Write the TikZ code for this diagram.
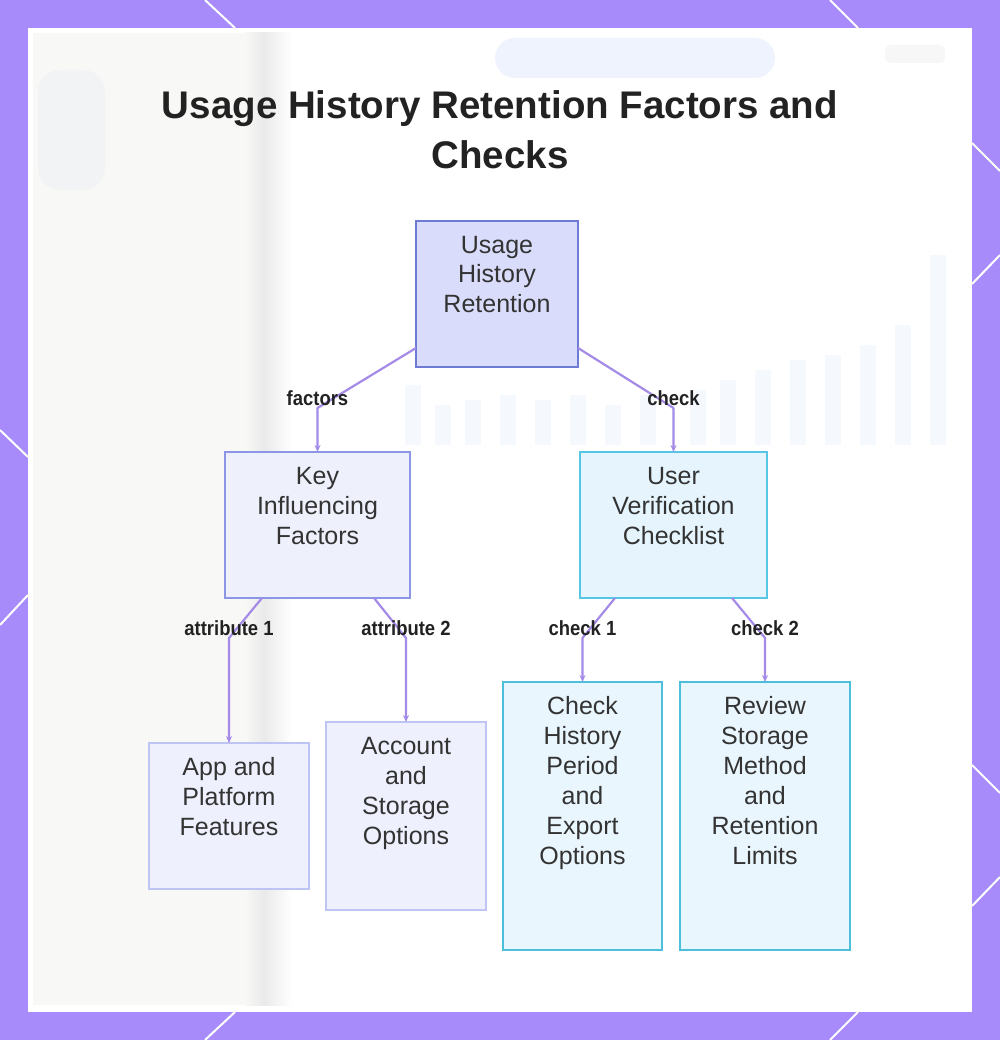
\documentclass[tikz,border=0pt]{standalone}
\usepackage{fontspec}
\setmainfont{Liberation Sans}
\newfontfamily\lblfont[FakeStretch=0.9]{Liberation Sans}
\usetikzlibrary{arrows.meta}
\definecolor{framec}{HTML}{A78BFA}
\definecolor{edgec}{HTML}{A48BE8}
\definecolor{ttl}{HTML}{222222}
\definecolor{txt}{HTML}{333333}
\definecolor{rootfill}{HTML}{D9DCFA}
\definecolor{rootdraw}{HTML}{6E7BD4}
\definecolor{kiffill}{HTML}{EEF0FC}
\definecolor{kifdraw}{HTML}{8D96E6}
\definecolor{leaffill}{HTML}{EEF0FD}
\definecolor{leafdraw}{HTML}{BFC5F3}
\definecolor{uvcfill}{HTML}{E6F5FD}
\definecolor{uvcdraw}{HTML}{56C6E4}
\definecolor{chkfill}{HTML}{EAF6FE}
\definecolor{chkdraw}{HTML}{4BBFDB}
\definecolor{offwhite}{HTML}{F8F8F6}
\definecolor{bandgray}{HTML}{EAEAEA}
\definecolor{blurgray}{HTML}{F2F3F4}
\definecolor{blurblue}{HTML}{F5F8FD}
\definecolor{pillblue}{HTML}{EEF3FE}
\newcommand\boxtext[3]{\parbox[c][#1][t]{#2}{\centering\fontsize{25}{30}\selectfont\rule{0pt}{32pt}#3\par}}
\begin{document}
\begin{tikzpicture}[x=1pt,y=-1pt,
  box/.style={draw, line width=2pt, inner sep=0pt, outer sep=0pt, text=txt},
  rootbox/.style={box, fill=rootfill, draw=rootdraw},
  kifbox/.style={box, fill=kiffill, draw=kifdraw},
  leafbox/.style={box, fill=leaffill, draw=leafdraw},
  uvcbox/.style={box, fill=uvcfill, draw=uvcdraw},
  chkbox/.style={box, fill=chkfill, draw=chkdraw},
  edge/.style={draw=edgec, line width=2.2pt, line join=round, -{Stealth[length=7pt,width=6pt]}},
  lbl/.style={font=\lblfont\bfseries\fontsize{20.5}{22}\selectfont, text=ttl, yshift=10pt},
  ttlnode/.style={font=\bfseries\fontsize{38.5}{46}\selectfont, text=ttl, anchor=base},
  wline/.style={draw=white, line width=2pt}]
\useasboundingbox (0,0) rectangle (1000,1040);
% frame
\fill[framec] (0,0) rectangle (1000,1040);
\draw[wline] (205,0) -- (235,28);
\draw[wline] (830,0) -- (858,28);
\draw[wline] (235,1012) -- (205,1040);
\draw[wline] (858,1012) -- (830,1040);
\draw[wline] (972,143) -- (1000,171);
\draw[wline] (1000,255) -- (972,284);
\draw[wline] (972,765) -- (1000,793);
\draw[wline] (1000,877) -- (972,906);
\draw[wline] (0,430) -- (28,457);
\draw[wline] (28,595) -- (0,625);
% panel with faint blurred background
\fill[white] (28,28) rectangle (972,1012);
\fill[offwhite] (33,33) rectangle (245,1005);
\shade[left color=offwhite, right color=bandgray] (245,33) rectangle (264,1005);
\shade[left color=bandgray, right color=white] (264,33) rectangle (292,1005);
\fill[blurgray, rounded corners=22pt] (38,70) rectangle (105,190);
\fill[pillblue, rounded corners=20pt] (495,38) rectangle (775,78);
\fill[black!3, rounded corners=6pt] (885,45) rectangle (945,63);
\foreach \x/\h in {405/60,435/40,465/45,500/50,535/45,570/50,605/40,640/50,690/55,720/65,755/75,790/85,825/90,860/100,895/120,930/190}
  \fill[blurblue] (\x,445-\h) rectangle (\x+16,445);
% title
\node[ttlnode] (title1) at (500,119) {Usage History Retention Factors and};
\node[ttlnode] (title2) at (500,169) {Checks};
% boxes
\node[rootbox] (root) at (497,294) {\boxtext{146pt}{162pt}{Usage\\History\\Retention}};
\node[kifbox] (kif) at (317.5,525) {\boxtext{146pt}{185pt}{Key\\Influencing\\Factors}};
\node[uvcbox] (uvc) at (673.5,525) {\boxtext{146pt}{187pt}{User\\Verification\\Checklist}};
\node[leafbox] (app) at (229,816) {\boxtext{146pt}{160pt}{App and\\Platform\\Features}};
\node[leafbox] (acct) at (406,816) {\boxtext{188pt}{160pt}{Account\\and\\Storage\\Options}};
\node[chkbox] (chk) at (582.5,816) {\boxtext{268pt}{159pt}{Check\\History\\Period\\and\\Export\\Options}};
\node[chkbox] (rev) at (765,816) {\boxtext{268pt}{170pt}{Review\\Storage\\Method\\and\\Retention\\Limits}};
% connectors
\draw[edge] ([yshift=19pt]root.south west) -- ([yshift=44pt]kif.north) node[lbl] {factors} -- (kif.north);
\draw[edge] ([yshift=19pt]root.south east) -- ([yshift=44pt]uvc.north) node[lbl] {check} -- (uvc.north);
\draw[edge] ([xshift=37pt]kif.south west) -- ([yshift=105pt]app.north) node[lbl] {attribute 1} -- (app.north);
\draw[edge] ([xshift=-36pt]kif.south east) -- ([yshift=84pt]acct.north) node[lbl] {attribute 2} -- (acct.north);
\draw[edge] ([xshift=35pt]uvc.south west) -- ([yshift=44pt]chk.north) node[lbl] {check 1} -- (chk.north);
\draw[edge] ([xshift=-35pt]uvc.south east) -- ([yshift=44pt]rev.north) node[lbl] {check 2} -- (rev.north);
\end{tikzpicture}
\end{document}
